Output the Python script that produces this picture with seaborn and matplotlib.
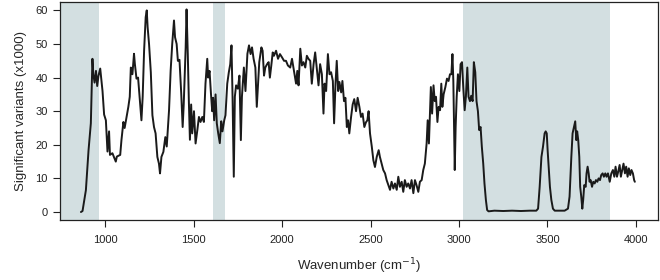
import matplotlib
matplotlib.use("Agg")
import matplotlib.pyplot as plt
import seaborn as sns
import pandas as pd

wavenumber = [
    863, 872, 891, 906, 919, 928, 933, 940, 948, 955, 962, 972, 985, 994, 1004, 1013,
    1022, 1027, 1041, 1060, 1066, 1085, 1092, 1103, 1110, 1120, 1131, 1139, 1145, 1154,
    1163, 1168, 1177, 1186, 1192, 1205, 1212, 1220, 1229, 1235, 1240, 1248, 1258, 1267,
    1276, 1285, 1295, 1304, 1310, 1318, 1329, 1340, 1348, 1361, 1370, 1379, 1389, 1395,
    1404, 1411, 1420, 1430, 1438, 1444, 1455, 1460, 1467, 1473, 1479, 1486, 1492, 1502,
    1511, 1521, 1530, 1539, 1549, 1558, 1567, 1577, 1582, 1590, 1598, 1605, 1610, 1616,
    1624, 1631, 1639, 1648, 1656, 1663, 1673, 1680, 1690, 1699, 1707, 1714, 1720, 1727,
    1733, 1740, 1750, 1759, 1767, 1773, 1784, 1793, 1804, 1813, 1822, 1830, 1839, 1849,
    1857, 1864, 1871, 1883, 1890, 1898, 1905, 1915, 1924, 1931, 1939, 1947, 1954, 1966,
    1977, 1988, 2000, 2011, 2022, 2033, 2046, 2056, 2067, 2079, 2086, 2093, 2103, 2112,
    2121, 2131, 2140, 2149, 2159, 2168, 2178, 2187, 2196, 2206, 2215, 2225, 2234, 2240,
    2249, 2259, 2268, 2277, 2287, 2294, 2302, 2309, 2317, 2324, 2334, 2341, 2350, 2358,
    2366, 2373, 2380, 2390, 2399, 2408, 2418, 2427, 2437, 2446, 2455, 2465, 2474, 2482,
    2489, 2497, 2507, 2516, 2525, 2535, 2546, 2553, 2563, 2572, 2582, 2591, 2600, 2610,
    2619, 2629, 2638, 2648, 2657, 2666, 2676, 2685, 2694, 2704, 2713, 2723, 2732, 2742,
    2751, 2760, 2770, 2779, 2789, 2798, 2807, 2817, 2823, 2830, 2835, 2841, 2848, 2856,
    2863, 2870, 2878, 2885, 2893, 2900, 2906, 2913, 2923, 2932, 2941, 2949, 2957, 2963,
    2968, 2976, 2981, 2987, 2994, 3002, 3009, 3017, 3024, 3032, 3039, 3047, 3054, 3062,
    3069, 3077, 3084, 3092, 3099, 3107, 3114, 3122, 3129, 3137, 3144, 3152, 3159, 3167,
    3200, 3250, 3300, 3350, 3400, 3437, 3447, 3456, 3466, 3475, 3484, 3490, 3496, 3501,
    3507, 3514, 3522, 3531, 3541, 3560, 3597, 3616, 3625, 3635, 3642, 3650, 3657, 3663,
    3668, 3674, 3680, 3685, 3691, 3697, 3702, 3708, 3716, 3721, 3727, 3733, 3738, 3744,
    3752, 3759, 3767, 3774, 3782, 3789, 3797, 3804, 3812, 3819, 3827, 3834, 3842, 3852,
    3861, 3870, 3878, 3885, 3893, 3900, 3908, 3915, 3923, 3930, 3938, 3945, 3953, 3960,
    3968, 3975, 3983, 3990, 3994,
]
variants = [
    0.0, 0.3, 6.5, 18.4, 26.4, 45.6, 41.0, 38.5, 42.0, 37.5, 40.5, 42.7, 36.0, 29.0, 27.3, 18.0,
    24.0, 17.0, 17.5, 15.0, 16.5, 17.0, 21.4, 26.8, 25.0, 28.0, 31.3, 34.3, 43.0, 41.0,
    47.1, 44.0, 39.7, 40.0, 36.0, 27.3, 34.3, 48.0, 58.0, 60.0, 55.0, 50.0, 41.6, 28.8,
    25.3, 23.4, 16.4, 14.4, 11.5, 16.4, 17.9, 22.3, 19.5, 30.3, 42.0, 50.0, 57.0, 52.0,
    50.0, 45.0, 45.3, 35.2, 25.3, 32.0, 49.0, 60.3, 47.0, 33.0, 21.5, 32.0, 23.4, 30.0,
    20.4, 24.4, 28.3, 26.8, 28.3, 26.8, 38.2, 45.6, 40.0, 42.0, 35.2, 30.0, 34.0, 27.3,
    35.0, 26.4, 23.4, 20.5, 27.0, 24.0, 27.3, 28.8, 38.2, 41.6, 44.0, 49.6, 34.3, 10.5,
    34.3, 37.7, 36.7, 40.6, 21.4, 34.3, 43.0, 36.0, 47.1, 49.6, 47.0, 49.0, 45.6, 43.0,
    31.3, 38.2, 44.6, 49.0, 48.0, 40.6, 43.0, 44.0, 44.6, 40.0, 43.6, 47.5, 46.5, 48.0,
    45.6, 47.0, 46.0, 45.0, 45.0, 43.6, 43.0, 45.6, 42.0, 38.2, 42.0, 37.7, 48.6, 43.6,
    44.6, 43.0, 46.5, 45.6, 45.0, 38.2, 44.0, 47.5, 43.0, 37.7, 44.0, 41.0, 29.3, 38.2,
    36.0, 47.0, 41.0, 41.6, 39.0, 26.4, 38.2, 45.0, 36.0, 38.7, 35.6, 39.0, 33.0, 34.0,
    25.3, 27.3, 23.4, 28.3, 32.0, 33.6, 30.0, 34.0, 31.3, 28.3, 29.3, 25.3, 26.7, 27.3,
    30.0, 23.4, 19.5, 15.4, 13.4, 16.4, 18.4, 16.4, 14.4, 12.5, 11.5, 9.5, 8.1, 6.6,
    9.0, 7.0, 8.5, 6.6, 10.5, 7.5, 9.0, 6.0, 9.5, 7.5, 8.5, 7.0, 9.5, 5.6,
    9.5, 8.0, 6.0, 9.0, 9.5, 12.5, 14.4, 20.4, 27.3, 20.4, 28.3, 37.2, 29.3, 37.7,
    33.0, 34.3, 26.8, 31.3, 30.3, 38.2, 31.3, 35.0, 37.2, 39.7, 39.0, 41.0, 41.0, 47.0,
    39.0, 12.5, 25.3, 34.3, 41.0, 36.0, 44.0, 44.6, 37.2, 30.3, 34.3, 43.0, 34.3, 33.0,
    34.6, 33.0, 44.6, 41.6, 33.0, 30.0, 24.4, 25.3, 19.5, 14.4, 8.5, 3.6, 0.6, 0.2,
    0.4, 0.3, 0.4, 0.3, 0.4, 0.4, 1.0, 7.5, 16.4, 19.5, 23.4, 24.0, 23.4, 18.4,
    13.4, 7.5, 3.6, 1.0, 0.4, 0.4, 0.4, 1.0, 4.6, 16.4, 23.4, 25.3, 27.0, 21.4,
    24.0, 21.4, 16.4, 7.5, 4.6, 1.0, 3.6, 8.0, 7.5, 11.5, 13.5, 11.5, 9.0, 9.5,
    7.5, 9.0, 8.5, 9.5, 9.0, 10.0, 9.5, 11.0, 11.5, 10.5, 11.5, 10.5, 11.5, 9.0,
    11.5, 12.5, 10.5, 13.5, 10.5, 12.0, 14.0, 10.5, 12.5, 14.4, 11.5, 13.5, 10.5, 13.0,
    11.0, 12.5, 11.5, 9.5, 9.0,
]
shaded_regions = [(700, 966), (1609, 1680), (3024, 3851)]
x_ticks = [1000, 1500, 2000, 2500, 3000, 3500, 4000]
y_ticks = [0, 10, 20, 30, 40, 50, 60]

sns.set_style("ticks")
plt.rcParams['font.family'] = ['Liberation Sans', 'DejaVu Sans']

df = pd.DataFrame({"wavenumber": wavenumber, "variants": variants})

fig = plt.figure(figsize=(6.6, 2.8), dpi=100)
ax = fig.add_axes([0.091, 0.214, 0.906, 0.78])

for lo, hi in shaded_regions:
    ax.axvspan(lo, hi, color="#d3dfe1", lw=0, zorder=0)

sns.lineplot(data=df, x="wavenumber", y="variants", ax=ax, color="#1a1a1a",
             lw=1.4, sort=False, estimator=None)

ax.set_xlim(745, 4125)
ax.set_ylim(-2.4, 62.6)
ax.set_xticks(x_ticks)
ax.set_yticks(y_ticks)
ax.tick_params(axis="both", direction="out", length=5, width=0.8, labelsize=8, pad=4,
               colors="#222222")
ax.tick_params(axis="x", pad=6)
for s in ax.spines.values():
    s.set_visible(True)
    s.set_linewidth(0.9)
    s.set_color("#222222")
ax.set_xlabel("Wavenumber (cm$^{-1}$)", fontsize=9.5, labelpad=8)
ax.set_ylabel("Significant variants (x1000)", fontsize=9.5, labelpad=6)

fig.savefig("out.png", dpi=100)
